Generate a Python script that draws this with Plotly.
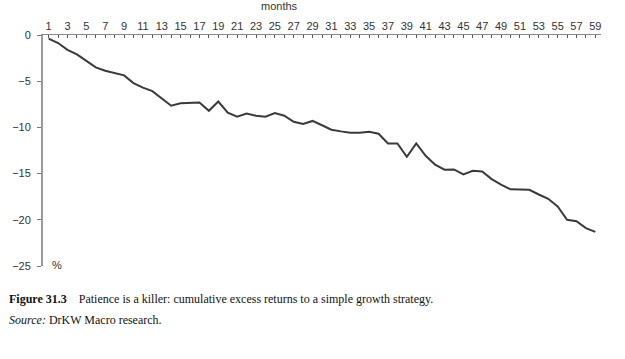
import plotly.graph_objects as go

months = list(range(1, 60))
cum_excess = [-0.4, -0.87, -1.6, -2.1, -2.8, -3.5, -3.86, -4.1, -4.37, -5.2,
              -5.7, -6.07, -6.86, -7.65, -7.38, -7.3, -7.3, -8.2, -7.2, -8.4,
              -8.85, -8.49, -8.74, -8.85, -8.45, -8.74, -9.39, -9.64, -9.3, -9.77,
              -10.25, -10.43, -10.58, -10.58, -10.47, -10.69, -11.73, -11.73, -13.18, -11.73,
              -13.07, -14.04, -14.58, -14.55, -15.09, -14.7, -14.77, -15.6, -16.2, -16.7,
              -16.75, -16.75, -17.26, -17.73, -18.56, -20.0, -20.15, -20.9, -21.3]
x_tickvals = list(range(1, 60, 2))
y_tickvals = [0, -5, -10, -15, -20, -25]
y_ticktext = ["0", "\u22125", "\u221210", "\u221215", "\u221220", "\u221225"]

W, H = 625, 359
L, R, T, B = 43, 24, 35, 93
pw, ph = W - L - R, H - T - B

def px(xp):
    return (xp - L) / pw

def py(yp):
    return (H - B - yp) / ph

fig = go.Figure()
fig.add_trace(go.Scatter(x=months, y=cum_excess, mode="lines",
                         line=dict(color="#3a3a3a", width=2), hoverinfo="skip"))

tickfont = dict(family="Liberation Sans, Arial, sans-serif", size=11, color="#333333")
capfont = dict(family="Liberation Serif", size=12, color="#111111")

fig.update_layout(
    width=W, height=H,
    margin=dict(l=L, r=R, t=T, b=B),
    paper_bgcolor="white", plot_bgcolor="white",
    showlegend=False,
    xaxis=dict(
        side="top", range=[0.4, 59.6], tickmode="array", tickvals=x_tickvals,
        ticks="inside", ticklen=3, tickcolor="#555555", tickwidth=1,
        minor=dict(tickmode="linear", tick0=0, dtick=1, ticks="inside", ticklen=3,
                   tickcolor="#555555", tickwidth=1),
        showline=True, linecolor="#888888", linewidth=1,
        showgrid=False, zeroline=False, tickfont=tickfont,
    ),
    yaxis=dict(
        range=[-25, 0], tickmode="array", tickvals=y_tickvals, ticktext=y_ticktext,
        ticks="outside", ticklen=4, tickcolor="#777777", tickwidth=1,
        ticklabelstandoff=4,
        showline=True, linecolor="#999999", linewidth=2,
        showgrid=False, zeroline=False, tickfont=tickfont,
    ),
    annotations=[
        dict(text="months", x=px(279), y=py(6), xref="paper", yref="paper",
             showarrow=False, xanchor="center", yanchor="middle", font=tickfont),
        dict(text="%", x=px(50), y=py(265), xref="paper", yref="paper",
             showarrow=False, xanchor="left", yanchor="middle", font=tickfont),
        dict(text="<b>Figure 31.3</b>    Patience is a killer: cumulative excess returns to a simple growth strategy.",
             x=px(7), y=py(299), xref="paper", yref="paper", showarrow=False,
             xanchor="left", yanchor="middle", font=capfont),
        dict(text="<i>Source:</i> DrKW Macro research.",
             x=px(7), y=py(320), xref="paper", yref="paper", showarrow=False,
             xanchor="left", yanchor="middle", font=capfont),
    ],
)

fig.write_html("out.html")
